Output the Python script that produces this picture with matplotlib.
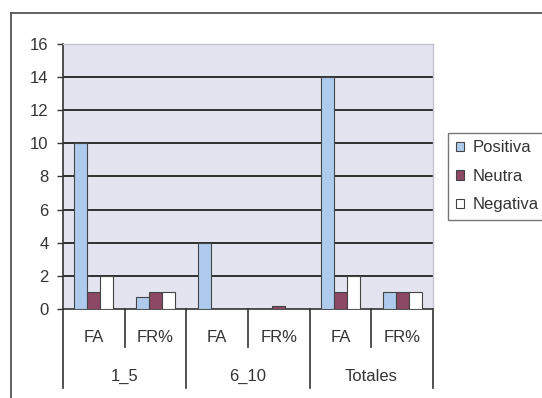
import numpy as np
import matplotlib
matplotlib.use("Agg")
import matplotlib.pyplot as plt
from matplotlib.lines import Line2D
import matplotlib.transforms as mtransforms

plt.rcParams['font.family'] = ['Liberation Sans', 'DejaVu Sans']

# === Data ===
groups = ["1_5", "6_10", "Totales"]
measures = ["FA", "FR%"]
series_names = ["Positiva", "Neutra", "Negativa"]
positiva = [10, 0.7, 4, 0, 14, 1]
neutra = [1, 1, 0, 0.2, 1, 1]
negativa = [2, 1, 0, 0, 2, 1]

colors = ["#aecbee", "#8c4864", "#ffffff"]
edge = "#444444"
txt = "#333333"
fs = 12

W, H = 542, 398
fig = plt.figure(figsize=(W / 100, H / 100), dpi=100)
fig.patch.set_facecolor("white")

# outer chart frame: only top and left edges fall inside the image
fx, fy = 11 / W, 1 - 13 / H
fig.lines.append(Line2D([fx, 1.05], [fy, fy], transform=fig.transFigure,
                        color="#555555", linewidth=1.3))
fig.lines.append(Line2D([fx, fx], [-0.05, fy], transform=fig.transFigure,
                        color="#555555", linewidth=1.3))

ax = fig.add_axes([63 / W, 1 - 309 / H, 370 / W, 265 / H])
ax.set_facecolor("#e4e4f1")

n = len(positiva)
x = np.arange(n)
w = 0.21
for i, (vals, name) in enumerate(zip([positiva, neutra, negativa], series_names)):
    ax.bar(x + (i - 1) * w, vals, width=w, color=colors[i], edgecolor=edge,
           linewidth=0.8, label=name, zorder=3)

ax.set_xlim(-0.5, n - 0.5)
ax.set_ylim(0, 16)
ax.set_yticks(range(0, 17, 2))
ax.tick_params(axis="y", direction="out", length=4.5, width=1, labelsize=fs,
               pad=6, colors=txt)
ax.tick_params(axis="x", length=0, labelbottom=False)
for y in range(2, 16, 2):
    ax.axhline(y, color="#222222", linewidth=1.3, zorder=1)

for s in ["top", "right"]:
    ax.spines[s].set_color("#c4c4d2")
    ax.spines[s].set_linewidth(1.0)
for s in ["left", "bottom"]:
    ax.spines[s].set_color(txt)
    ax.spines[s].set_linewidth(1.2)

# multi-level category axis
trans = mtransforms.blended_transform_factory(ax.transData, ax.transAxes)
for k in range(len(groups)):
    for j, m in enumerate(measures):
        xi = k * len(measures) + j
        ax.text(xi, -0.106, m, transform=trans, ha="center", va="center",
                fontsize=fs, color=txt)
    ax.text(k * len(measures) + 0.5, -0.253, groups[k], transform=trans,
            ha="center", va="center", fontsize=fs, color=txt)
    ax.plot([k * 2 + 0.5] * 2, [0, -0.143], transform=trans, color=txt,
            linewidth=1.2, clip_on=False)
for k in range(len(groups) + 1):
    ax.plot([k * 2 - 0.5] * 2, [0, -0.298], transform=trans, color=txt,
            linewidth=1.2, clip_on=False)

# legend box runs past the right edge of the image
leg = ax.legend(loc="upper left",
                bbox_to_anchor=(448 / W, 1 - 219 / H, 0.2, 86 / H),
                bbox_transform=fig.transFigure, mode="expand", fontsize=fs,
                frameon=True, fancybox=False, borderpad=0.45,
                handlelength=0.5, handleheight=0.5, handletextpad=0.5,
                labelspacing=0.8, borderaxespad=0)
leg.get_frame().set_edgecolor("#555555")
leg.get_frame().set_linewidth(1.0)
for t in leg.get_texts():
    t.set_color(txt)

fig.savefig("out.png", dpi=100, facecolor="white")
